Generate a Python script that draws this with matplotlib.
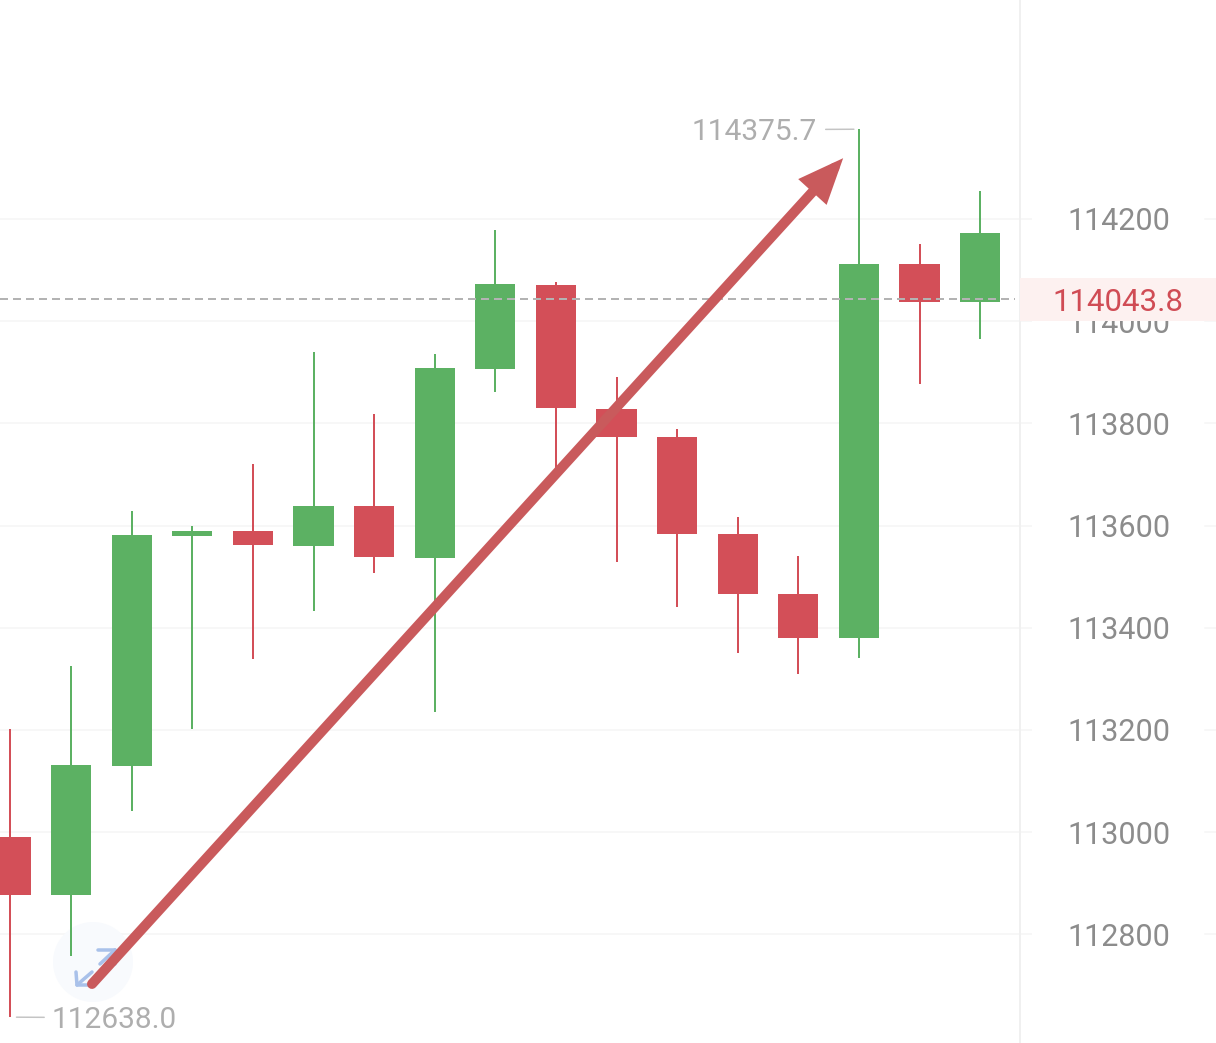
import matplotlib
matplotlib.use("Agg")
import matplotlib.pyplot as plt
import matplotlib.transforms as mtrans
from matplotlib.patches import Circle, Rectangle
import numpy as np

# candle values, oldest first
OPENS = [112991, 112877, 113130, 113580, 113589, 113560, 113638, 113537, 113906, 114071,
         113828, 113773, 113584, 113466, 113380, 114112, 114038]
CLOSES = [112877, 113131, 113582, 113589, 113562, 113638, 113539, 113908, 114073, 113830,
          113773, 113584, 113466, 113380, 114112, 114038, 114173]
HIGHS = [113202, 113325, 113629, 113599, 113721, 113940, 113818, 113936, 114178, 114077,
         113891, 113789, 113617, 113541, 114375.7, 114151, 114255]
LOWS = [112638.0, 112758, 113042, 113202, 113339, 113433, 113507, 113235, 113861, 113709,
        113529, 113441, 113351, 113310, 113341, 113877, 113965]

PRICE_TICKS = [112800, 113000, 113200, 113400, 113600, 113800, 114000, 114200]
LAST_PRICE = 114043.8
LOW_LABEL = "112638.0"
HIGH_LABEL = "114375.7"
LOW_IDX = 0
HIGH_IDX = 14
# arrow drawn by the user on the chart (candle index, price)
ARROW_START = (1.345, 112703)
ARROW_END = (13.74, 114319)

GREEN = "#5cb163"
RED = "#d34f58"
GRID = "#f5f5f5"
W, H = 1216, 1043
PX = 72 / 100  # one pixel in points
STEP = 60.6  # candle spacing in pixels

plt.rcParams["font.family"] = ["Roboto", "DejaVu Sans"]

fig = plt.figure(figsize=(W / 100, H / 100), dpi=100)
ax = fig.add_axes([0, 0, 1020 / W, 1])
ax.set_xlim(-10.5 / STEP, (1020 - 10.5) / STEP)
ax.set_ylim(114200 - 824 * 1.957, 114200 + 219 * 1.957)

x = np.arange(len(OPENS))
opens = np.array(OPENS)
closes = np.array(CLOSES)
colors = [GREEN if c >= o else RED for o, c in zip(opens, closes)]

ax.vlines(x, LOWS, HIGHS, colors=colors, lw=2 * PX, zorder=3)
ax.bar(x, np.abs(closes - opens), bottom=np.minimum(opens, closes), width=0.665, color=colors, zorder=3)

# price axis
for s in ["top", "left", "bottom"]:
    ax.spines[s].set_visible(False)
ax.spines["right"].set_color("#f0f0f0")
ax.spines["right"].set_linewidth(2 * PX)
ax.set_xticks([])
ax.yaxis.tick_right()
ax.set_yticks(PRICE_TICKS)
ax.set_yticklabels([str(p) for p in PRICE_TICKS])
ax.tick_params(axis="y", length=12 * PX, width=1.5 * PX, color=GRID, pad=35 * PX,
               labelsize=22, labelcolor="#8c8c8c")
ax.grid(axis="y", color=GRID, lw=1.5 * PX, zorder=0)
ax.set_axisbelow(True)

# stubs on the far right edge of the price axis
right_trans = mtrans.blended_transform_factory(ax.transAxes, ax.transData)
for p in PRICE_TICKS:
    ax.plot([1205 / 1020, W / 1020], [p, p], transform=right_trans, color=GRID,
            lw=1.5 * PX, clip_on=False)

# last price line and tag
ax.axhline(LAST_PRICE, xmin=0, xmax=1015 / 1020, color="#b3b3b3", lw=2 * PX, ls=(0, (4, 2.5)), zorder=4)
ax.add_patch(Rectangle((1, LAST_PRICE - 43), (W - 1020) / 1020, 84, transform=right_trans,
                       facecolor="#fdf1f0", edgecolor="none", clip_on=False, zorder=5))
ax.text(1118 / 1020, LAST_PRICE - 7, f"{LAST_PRICE:.1f}", transform=right_trans, ha="center", va="center",
        fontsize=22.5, color="#d04c55", zorder=6, clip_on=False)

# high / low markers
ax.annotate(HIGH_LABEL, xy=(HIGH_IDX, HIGHS[HIGH_IDX]), xytext=(-42 * PX, -3 * PX), textcoords="offset points",
            ha="right", va="center", fontsize=21.5, color="#aeaeae",
            arrowprops=dict(arrowstyle="-", color="#c4c4c4", lw=1.5 * PX, shrinkA=6 * PX, shrinkB=5 * PX,
                            relpos=(1, 0.6)))
ax.annotate(LOW_LABEL, xy=(LOW_IDX, LOWS[LOW_IDX]), xytext=(41.5 * PX, -3 * PX), textcoords="offset points",
            ha="left", va="center", fontsize=21.5, color="#aeaeae",
            arrowprops=dict(arrowstyle="-", color="#c4c4c4", lw=1.5 * PX, shrinkA=5 * PX, shrinkB=6 * PX,
                            relpos=(0, 0.6)))

# zoom button under the arrow, placed in screen pixels
px = mtrans.Affine2D().scale(1, -1).translate(0, H)
ax.add_patch(Circle((93, 962), 40, transform=px, facecolor="#f8fafd", edgecolor="none", clip_on=False, zorder=1))
for xs, ys in [((98, 115), (950, 950)), ((115, 115), (950, 964)), ((115, 100), (950, 964)),
               ((76, 77, 92), (972, 985, 985)), ((77, 92), (985, 972))]:
    ax.plot(xs, ys, transform=px, color="#a9c1ea", lw=3.5 * PX, clip_on=False, zorder=2, solid_capstyle="round")

# hand drawn arrow
ax.annotate("", xy=ARROW_END, xytext=ARROW_START,
            arrowprops=dict(arrowstyle="-|>,head_length=1.0,head_width=0.42", mutation_scale=20,
                            color="#c95a5c", lw=10 * PX, shrinkA=0, shrinkB=0, joinstyle="miter"),
            zorder=7)

fig.savefig("out.png", dpi=100)
